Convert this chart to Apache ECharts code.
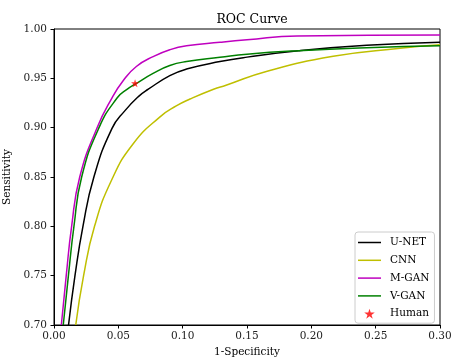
<!DOCTYPE html>
<html>
<head>
<meta charset="utf-8">
<script src="https://cdn.jsdelivr.net/npm/echarts@6/dist/echarts.min.js"></script>
<style>
  html, body {margin: 0; padding: 0; background: #fff;}
  #chart {width: 452px; height: 361px;}
</style>
</head>
<body>
<div id="chart"></div>
<script>
// [1-specificity, sensitivity]
var unet = [[0.0113, 0.70], [0.0163, 0.75], [0.0225, 0.80], [0.031, 0.85], [0.045, 0.899],
  [0.055, 0.917], [0.066, 0.932], [0.0733, 0.939], [0.090, 0.9527], [0.103, 0.9594], [0.129, 0.967],
  [0.15, 0.9715], [0.19, 0.978], [0.243, 0.9835], [0.30, 0.9865]];
var cnn = [[0.0169, 0.70], [0.023, 0.75], [0.0315, 0.80], [0.0448, 0.847], [0.0617, 0.884], [0.0824, 0.911],
  [0.095, 0.922], [0.1057, 0.929], [0.124, 0.939], [0.1337, 0.943], [0.165, 0.957], [0.217, 0.9723],
  [0.269, 0.9804], [0.30, 0.984]];
var mgan = [[0.0057, 0.70], [0.0095, 0.75], [0.0137, 0.80], [0.020, 0.85], [0.0335, 0.90], [0.045, 0.930],
  [0.054, 0.948], [0.064, 0.962], [0.077, 0.972], [0.090, 0.979], [0.103, 0.983], [0.129, 0.9865],
  [0.15, 0.989], [0.189, 0.993], [0.30, 0.994]];
var vgan = [[0.0072, 0.70], [0.0112, 0.75], [0.0155, 0.80], [0.0215, 0.85], [0.035, 0.90], [0.049, 0.930],
  [0.057, 0.939], [0.063, 0.944], [0.077, 0.955], [0.090, 0.963], [0.103, 0.967], [0.129, 0.9713],
  [0.15, 0.9745], [0.19, 0.978], [0.243, 0.981], [0.30, 0.983]];
var human = [[0.063, 0.945]];

var xTicks = {min: 0, max: 0.3, interval: 0.05};
var yTicks = {min: 0.7, max: 1.0, interval: 0.05};

var star = 'path://M10,0L12.245,6.91L19.511,6.91L13.633,11.18L15.878,18.09L10,13.82L4.122,18.09L6.367,11.18L0.489,6.91L7.755,6.91Z';
var bar = 'path://M0,0L23,0L23,1.5L0,1.5Z';
var serif = 'DejaVu Serif';

var chart = echarts.init(document.getElementById('chart'), null, {renderer: 'canvas'});

var lines = [
  {name: 'U-NET', data: unet, color: '#000000'},
  {name: 'CNN', data: cnn, color: '#bfbf00'},
  {name: 'M-GAN', data: mgan, color: '#bf00bf'},
  {name: 'V-GAN', data: vgan, color: '#008000'}
].map(function (s) {
  return {
    name: s.name,
    type: 'line',
    data: s.data,
    smooth: 0.5,
    symbol: 'none',
    clip: true,
    color: s.color,
    lineStyle: {width: 1.5, color: s.color},
    z: 2
  };
});

chart.setOption({
  animation: false,
  title: {
    text: 'ROC Curve',
    left: 247,
    top: 8,
    textAlign: 'center',
    textStyle: {fontFamily: serif, fontSize: 12.5, fontWeight: 'normal', color: '#000'}
  },
  grid: {
    left: 54, right: 12, top: 29, bottom: 36,
    outerBoundsMode: 'none',
    containLabel: false,
    show: true, borderColor: '#000', borderWidth: 1, backgroundColor: 'transparent'
  },
  legend: {
    orient: 'vertical',
    left: 355,
    top: 232,
    itemWidth: 23,
    itemHeight: 10,
    itemGap: 6.8,
    padding: [5, 5, 4, 3],
    backgroundColor: 'rgba(255,255,255,0.8)',
    borderColor: '#cccccc',
    borderWidth: 1,
    borderRadius: 3,
    textStyle: {fontFamily: serif, fontSize: 10.5, color: '#000', padding: [0, 0, 0, 4]},
    data: [
      {name: 'U-NET', icon: bar},
      {name: 'CNN', icon: bar},
      {name: 'M-GAN', icon: bar},
      {name: 'V-GAN', icon: bar},
      {name: 'Human', icon: star, itemStyle: {color: '#ff0000'}}
    ]
  },
  xAxis: {
    type: 'value',
    min: xTicks.min, max: xTicks.max, interval: xTicks.interval,
    name: '1-Specificity',
    nameLocation: 'middle',
    nameGap: 21,
    nameTextStyle: {fontFamily: serif, fontSize: 10.5, color: '#000'},
    axisLine: {lineStyle: {color: '#000', width: 1}},
    axisTick: {show: true, length: 3.5, lineStyle: {color: '#000'}},
    axisLabel: {
      fontFamily: serif, fontSize: 10.5, color: '#222', margin: 6,
      formatter: function (v) { return v.toFixed(2); }
    },
    splitLine: {show: false}
  },
  yAxis: {
    type: 'value',
    min: yTicks.min, max: yTicks.max, interval: yTicks.interval,
    name: 'Sensitivity',
    nameLocation: 'middle',
    nameGap: 32,
    nameTextStyle: {fontFamily: serif, fontSize: 10.5, color: '#000'},
    axisLine: {show: true, lineStyle: {color: '#000', width: 1}},
    axisTick: {show: true, length: 3.5, lineStyle: {color: '#000'}},
    axisLabel: {
      fontFamily: serif, fontSize: 10.5, color: '#222', margin: 7,
      formatter: function (v) { return v.toFixed(2); }
    },
    splitLine: {show: false}
  },
  series: lines.concat([{
    name: 'Human',
    type: 'scatter',
    data: human,
    symbol: star,
    symbolSize: 8,
    itemStyle: {color: '#ff0000'},
    z: 5
  }])
});
</script>
</body>
</html>
